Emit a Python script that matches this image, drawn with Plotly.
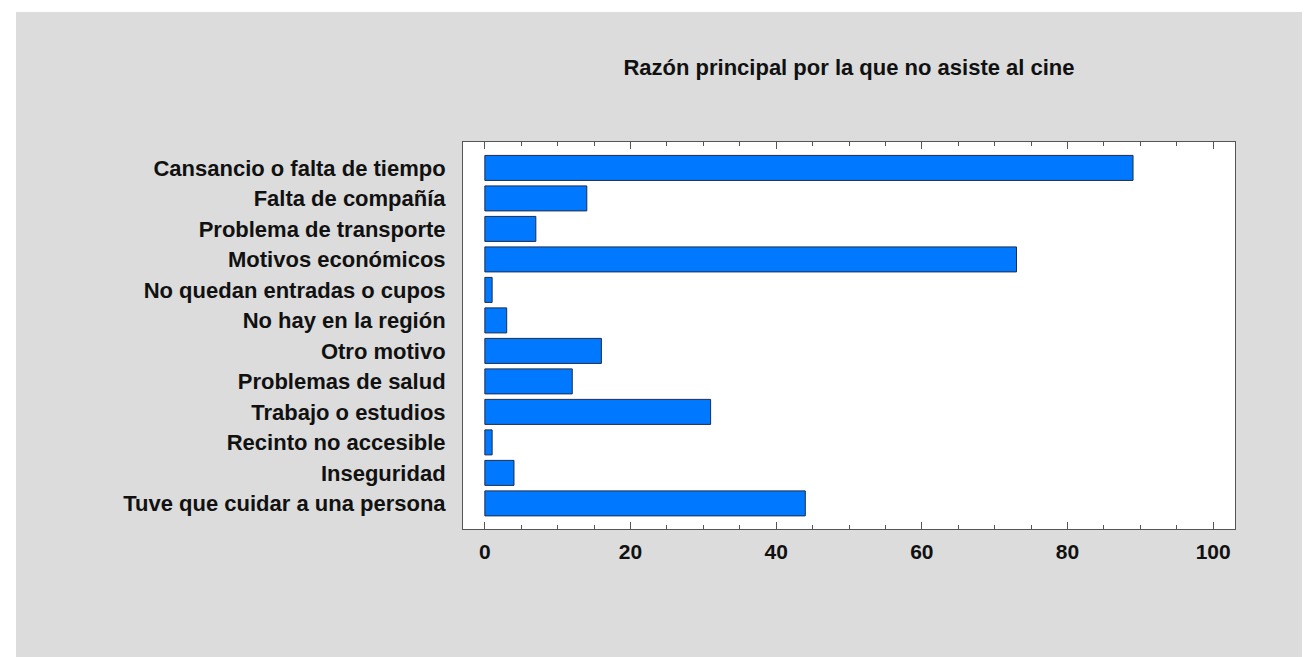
import plotly.graph_objects as go

categories = [
    "Cansancio o falta de tiempo",
    "Falta de compañía",
    "Problema de transporte",
    "Motivos económicos",
    "No quedan entradas o cupos",
    "No hay en la región",
    "Otro motivo",
    "Problemas de salud",
    "Trabajo o estudios",
    "Recinto no accesible",
    "Inseguridad",
    "Tuve que cuidar a una persona",
]
values = [89, 14, 7, 73, 1, 3, 16, 12, 31, 1, 4, 44]
x_ticks = [0, 20, 40, 60, 80, 100]
title_text = "Razón principal por la que no asiste al cine"

OFF = 8  # browser body margin
W, H = 1310 - OFF, 657 - OFF
ML, MR, MT, MB = 463 - OFF, W - (1235 - OFF), 142 - OFF, H - (529 - OFF)
PW, PH = W - ML - MR, H - MT - MB

def px_to_x(p):
    return (p - OFF - ML) / PW

def px_to_y(p):
    return (H - MB - (p - OFF)) / PH

fig = go.Figure(go.Bar(
    x=values,
    y=categories,
    orientation="h",
    width=0.82,
    marker=dict(color="#0078ff", line=dict(color="#1e2d4a", width=1)),
))

FONT = "Liberation Sans, Arial, sans-serif"
gray = "#dcdcdc"

fig.update_layout(
    width=W, height=H,
    margin=dict(l=ML, r=MR, t=MT, b=MB, pad=0),
    paper_bgcolor=gray,
    plot_bgcolor="white",
    showlegend=False,
    font=dict(family=FONT, color="#111111"),
    title=dict(
        text="<b>" + title_text + "</b>",
        x=0.5, xref="paper", xanchor="center",
        y=1 - (67 - OFF) / H, yref="container", yanchor="middle",
        font=dict(size=22, family=FONT, color="#111111"),
    ),
    xaxis=dict(
        range=[-3, 103],
        tickvals=x_ticks,
        ticktext=["<b>%d</b>" % v for v in x_ticks],
        tickfont=dict(size=21, family=FONT, color="#111111"),
        ticks="inside", ticklen=7, tickcolor="#555555", tickwidth=1,
        ticklabelstandoff=4,
        minor=dict(ticks="inside", dtick=5, tick0=0, ticklen=4, tickcolor="#555555", showgrid=False),
        showline=True, linecolor="#555555", linewidth=1, mirror="ticks",
        showgrid=False, zeroline=False,
        fixedrange=True,
    ),
    yaxis=dict(
        range=[11.84, -0.85],
        tickvals=categories,
        ticktext=["<b>" + c + "</b>" for c in categories],
        tickfont=dict(size=22, family=FONT, color="#111111"),
        ticks="", ticklabelstandoff=12,
        showline=True, linecolor="#555555", linewidth=1, mirror=True,
        showgrid=False, zeroline=False,
    ),
    shapes=[
        dict(type="rect", xref="paper", yref="paper",
             x0=px_to_x(-20), x1=px_to_x(1340), y0=px_to_y(12), y1=px_to_y(-20),
             fillcolor="white", line=dict(width=0), layer="above"),
        dict(type="rect", xref="paper", yref="paper",
             x0=px_to_x(-20), x1=px_to_x(16), y0=px_to_y(680), y1=px_to_y(-20),
             fillcolor="white", line=dict(width=0), layer="above"),
    ],
)

fig.write_html("out.html")
